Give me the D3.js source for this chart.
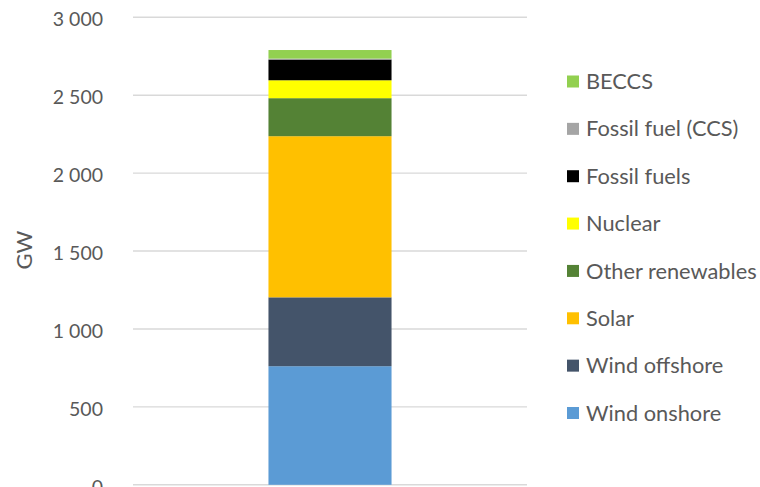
<!DOCTYPE html>
<html>
<head>
<meta charset="utf-8">
<script src="https://cdn.jsdelivr.net/npm/d3@7"></script>
<style>
  html, body { margin: 0; padding: 0; background: #fff; }
  svg { display: block; }
  text { font-family: Lato, "Open Sans", sans-serif; fill: #595959; }
</style>
</head>
<body>
<div id="chart"></div>
<script>
// ---- data ----
const categories = [""];
const seriesNames = ["Wind onshore", "Wind offshore", "Solar", "Other renewables",
                     "Nuclear", "Fossil fuels", "Fossil fuel (CCS)", "BECCS"];
const seriesValues = [761, 442, 1034, 244, 115, 133, 6, 55];
const seriesColors = ["#5B9BD5", "#44546A", "#FFC000", "#548235",
                      "#FFFF00", "#000000", "#A5A5A5", "#92D050"];
const yTicks = [0, 500, 1000, 1500, 2000, 2500, 3000];
const yLabel = "GW";

// ---- layout ----
const W = 760, H = 487;
const plot = { left: 133, right: 527, top: 17.3, bottom: 484.8 };

const svg = d3.select("#chart").append("svg")
  .attr("width", W).attr("height", H);

const x = d3.scaleBand().domain(categories)
  .range([plot.left, plot.right]).paddingInner(0.524).paddingOuter(0.524);
const y = d3.scaleLinear().domain([0, 3000]).range([plot.bottom, plot.top]);

const locale = d3.formatLocale({ decimal: ".", thousands: "\u00a0", grouping: [3], currency: ["", ""] });
const fmt = locale.format(",");

// gridlines
svg.append("g")
  .selectAll("line").data(yTicks).join("line")
  .attr("x1", plot.left).attr("x2", plot.right)
  .attr("y1", d => y(d)).attr("y2", d => y(d))
  .attr("stroke", "#D9D9D9").attr("stroke-width", 1.4);

// y axis labels
const yAxis = d3.axisLeft(y).tickValues(yTicks).tickFormat(fmt).tickSize(0).tickPadding(0);
const gy = svg.append("g").attr("transform", `translate(103,2)`).call(yAxis);
gy.select(".domain").remove();
gy.selectAll("text")
  .style("font-family", "Lato, 'Open Sans', sans-serif")
  .style("font-size", "19.5px").attr("fill", "#595959");

// y title
svg.append("text")
  .attr("transform", `translate(32,250) rotate(-90)`)
  .attr("text-anchor", "middle")
  .style("font-size", "22px")
  .text(yLabel);

// stacked bar
const rows = categories.map(c => {
  const o = { cat: c };
  seriesNames.forEach((s, i) => o[s] = seriesValues[i]);
  return o;
});
const stacked = d3.stack().keys(seriesNames)(rows);
const color = d3.scaleOrdinal().domain(seriesNames).range(seriesColors);

svg.append("g").selectAll("g").data(stacked).join("g")
  .attr("fill", d => color(d.key))
  .selectAll("rect").data(d => d).join("rect")
  .attr("x", d => x(d.data.cat))
  .attr("width", x.bandwidth())
  .attr("y", d => y(d[1]))
  .attr("height", d => y(d[0]) - y(d[1]));

// legend (reverse order)
const legendNames = seriesNames.slice().reverse();
const ly = d3.scalePoint().domain(legendNames).range([81.5, 413]);
const leg = svg.append("g").selectAll("g").data(legendNames).join("g")
  .attr("transform", d => `translate(567,${ly(d)})`);
leg.append("rect")
  .attr("x", 0).attr("y", -6).attr("width", 12).attr("height", 12)
  .attr("fill", d => color(d));
leg.append("text")
  .attr("x", 19).attr("dy", "0.35em")
  .style("font-size", "21.8px")
  .text(d => d);
</script>
</body>
</html>
